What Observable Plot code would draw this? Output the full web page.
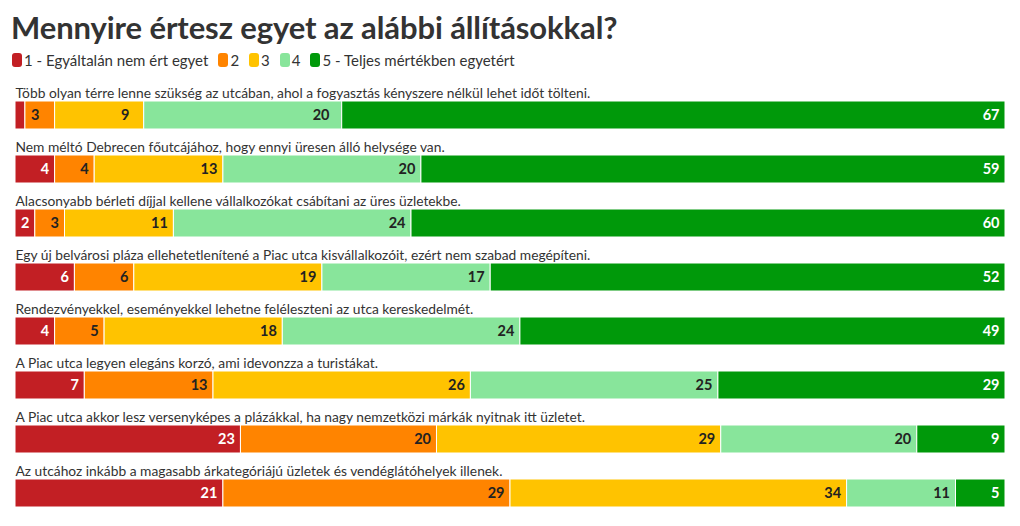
<!DOCTYPE html>
<html>
<head>
<meta charset="utf-8">
<script src="https://cdn.jsdelivr.net/npm/d3@7"></script>
<script src="https://cdn.jsdelivr.net/npm/@observablehq/plot@0.6"></script>
<style>
  html, body { margin: 0; padding: 0; background: #fff; }
  body { width: 1020px; height: 526px; overflow: hidden; font-family: "Source Sans Pro", Lato, "Noto Sans", sans-serif; color: #333; }
  h1 { margin: 0; position: absolute; left: 11px; top: 8px; font-size: 31px; font-weight: 700; color: #333; letter-spacing: -0.1px; }
  #legend { position: absolute; left: 12px; top: 51px; display: flex; align-items: center; font-size: 15px; color: #333; }
  #legend .item { display: flex; align-items: center; margin-right: 10px; }
  #legend .sw { width: 10px; height: 14px; border-radius: 3px; margin-right: 2px; }
  #chart { position: absolute; left: 0; top: 83px; }
</style>
</head>
<body>
<h1>Mennyire értesz egyet az alábbi állításokkal?</h1>
<div id="legend"></div>
<div id="chart"></div>
<script>
const statements = [
  "Több olyan térre lenne szükség az utcában, ahol a fogyasztás kényszere nélkül lehet időt tölteni.",
  "Nem méltó Debrecen főutcájához, hogy ennyi üresen álló helysége van.",
  "Alacsonyabb bérleti díjjal kellene vállalkozókat csábítani az üres üzletekbe.",
  "Egy új belvárosi pláza ellehetetlenítené a Piac utca kisvállalkozóit, ezért nem szabad megépíteni.",
  "Rendezvényekkel, eseményekkel lehetne feléleszteni az utca kereskedelmét.",
  "A Piac utca legyen elegáns korzó, ami idevonzza a turistákat.",
  "A Piac utca akkor lesz versenyképes a plázákkal, ha nagy nemzetközi márkák nyitnak itt üzletet.",
  "Az utcához inkább a magasabb árkategóriájú üzletek és vendéglátóhelyek illenek."
];
const categories = ["1 - Egyáltalán nem ért egyet", "2", "3", "4", "5 - Teljes mértékben egyetért"];
const colors = ["#c21f24", "#ff8400", "#ffc300", "#88e59b", "#00990a"];
const labelColors = ["#ffffff", "#222222", "#222222", "#222222", "#ffffff"];
const v1 = [1, 4, 2, 6, 4, 7, 23, 21];
const v2 = [3, 4, 3, 6, 5, 13, 20, 29];
const v3 = [9, 13, 11, 19, 18, 26, 29, 34];
const v4 = [20, 20, 24, 17, 24, 25, 20, 11];
const v5 = [67, 59, 60, 52, 49, 29, 9, 5];

const series = [v1, v2, v3, v4, v5];
const data = [];
statements.forEach((s, i) => {
  series.forEach((vals, k) => {
    data.push({statement: s, cat: categories[k], k, value: vals[i]});
  });
});

// legend
const legend = document.getElementById("legend");
categories.forEach((c, k) => {
  const it = document.createElement("div");
  it.className = "item";
  it.innerHTML = `<span class="sw" style="background:${colors[k]}"></span><span>${c}</span>`;
  legend.appendChild(it);
});

const stackOpts = {x: "value", y: "statement", order: categories, offset: "normalize"};

const chart = Plot.plot({
  width: 1020,
  height: 432,
  marginTop: 0,
  marginBottom: 0,
  marginLeft: 15,
  marginRight: 15,
  style: {fontFamily: "'Source Sans Pro', Lato, 'Noto Sans', sans-serif", background: "#fff"},
  x: {axis: null, domain: [0, 1]},
  y: {axis: null, domain: statements, paddingInner: 0, paddingOuter: 0},
  color: {domain: categories, range: colors},
  marks: [
    Plot.barX(data, Plot.stackX({...stackOpts, fill: "cat", insetTop: 18, insetBottom: 8, stroke: "#fff", strokeWidth: 1})),
    Plot.text(data, Plot.stackX2({
      ...stackOpts,
      filter: d => d.value >= 2,
      text: d => String(d.value),
      textAnchor: "end",
      dx: -6,
      dy: 5,
      fill: d => labelColors[d.k],
      fontWeight: 700,
      fontSize: 14.5
    })),
    Plot.text(statements, {
      y: d => d,
      frameAnchor: "left",
      text: d => d,
      textAnchor: "start",
      dy: -17,
      fill: "#333",
      fontSize: 13.8
    })
  ]
});
document.getElementById("chart").appendChild(chart);
</script>
</body>
</html>
